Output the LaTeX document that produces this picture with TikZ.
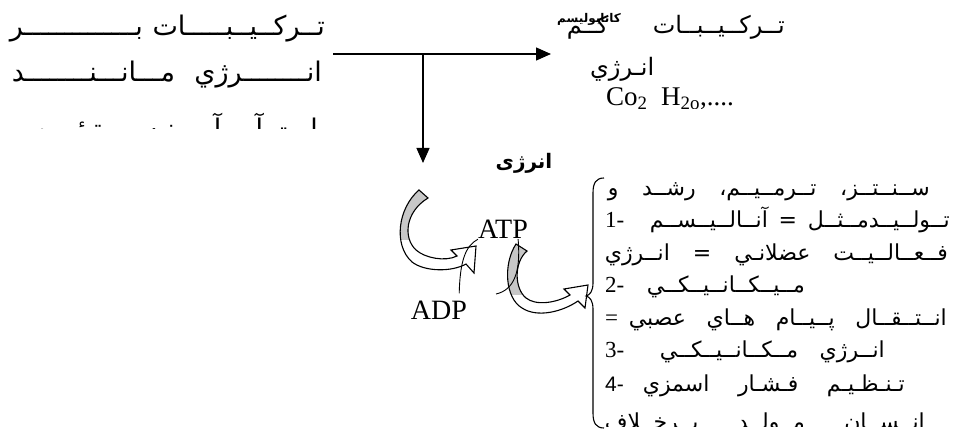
\documentclass[tikz,border=0pt]{standalone}
\usepackage{fontspec}
\setmainfont{Liberation Serif}
\newfontfamily\arfont[Script=Arabic]{DejaVu Sans}
\newfontfamily\latsans{Liberation Sans}
\TeXXeTstate=1
\usetikzlibrary{positioning, arrows.meta}

% outlines of the two curved block arrows
\newcommand{\ribbonone}{(419,190) .. controls (398,208) and (393,245) .. (412,262)
  .. controls (425,272) and (452,272) .. (466,264) -- (474,273) -- (476,246) -- (451,250)
  -- (457,256) .. controls (445,262) and (425,258) .. (416,250)
  .. controls (403,238) and (405,212) .. (428,198) -- cycle}
\newcommand{\ribbontwo}{(516,244) .. controls (503,264) and (505,298) .. (522,308)
  .. controls (537,318) and (562,312) .. (578,301) -- (585,308) -- (588,285) -- (564,289)
  -- (570,295) .. controls (556,303) and (536,306) .. (526,298)
  .. controls (514,288) and (514,262) .. (527,251) -- cycle}

\begin{document}
\begin{tikzpicture}[x=1pt, y=-1pt,
  bigar/.style={font=\arfont\fontsize{27}{27}\selectfont, anchor=base east, inner sep=0pt},
  midar/.style={font=\arfont\fontsize{24}{24}\selectfont, anchor=base east, inner sep=0pt},
  arline/.style={font=\arfont\fontsize{22}{22}\selectfont, anchor=base east, inner sep=0pt},
  numtag/.style={font=\fontsize{23}{23}\selectfont, anchor=base west, inner sep=0pt},
  chem/.style={font=\fontsize{28}{28}\selectfont, anchor=base, inner sep=0pt},
  flow/.style={-{Triangle[length=15pt, width=13pt]}, line width=1.3pt},
  link/.style={line width=0.9pt},
  ribbon/.style={draw, line width=1.1pt},
  shade/.style={fill=black!22},
  bracel/.style={line width=1.1pt}
]
  \useasboundingbox (0,0) rectangle (956,430);

  % source compounds, top left (last line cut off)
  \begin{scope}
    \clip (0,0) rectangle (340,129);
    \node[bigar] (src1) at (325,36) {\hbox to 315pt{\beginR تــركــيــبـــــات\hfill بــــــــــــــر\endR}};
    \node[bigar] (src2) at (322,82) {\hbox to 310pt{\beginR انــــــــرژي\hfill مـــانـــنــــــــد\endR}};
    \node[bigar] (src3) at (325,139) {\hbox to 300pt{\beginR حـرارت\hfill ،\hfill آب\hfill ،\hfill آمـيـنـه\hfill پـروتـئـيـن،\endR}};
  \end{scope}

  % products, top right
  \begin{scope}
    \clip (555,0) rectangle (800,109);
    \node[midar] (dst1) at (785,34) {\hbox to 218pt{\beginR تــركــيــبــات\hfill كــم\endR}};
    \node[midar, anchor=base west] (dst2) at (590,76) {\beginR انـرژي\endR};
    \node[chem, anchor=base west, font=\fontsize{27}{27}\selectfont] (dst3) at (606,106) {Co\textsubscript{2}\ \ H\textsubscript{2o},....};
  \end{scope}
  \node[font=\arfont\bfseries\fontsize{12}{12}\selectfont, inner sep=0pt] (catab) at (589,19) {\beginR كاتابوليسم\endR};

  % main arrows
  \coordinate (hstart) at (333,54);
  \coordinate (fork) at (423,54);
  \coordinate (hend) at (551,54);
  \coordinate (vend) at (423,163);
  \draw[flow] (hstart) -- (hend);
  \draw[flow] (fork) -- (vend);

  \node[font=\arfont\bfseries\fontsize{20}{20}\selectfont, inner sep=0pt] (energy) at (524,163) {\beginR انرژی\endR};

  % ATP cycle
  \node[chem] (ATP) at (503,239) {ATP};
  \node[chem] (ADP) at (439,320) {ADP};

  \begin{scope}
    \clip (385,185) rectangle (432,240);
    \fill[shade] \ribbonone;
  \end{scope}
  \draw[ribbon] \ribbonone;
  \begin{scope}
    \clip (500,240) rectangle (530,295);
    \fill[shade] \ribbontwo;
  \end{scope}
  \draw[ribbon] \ribbontwo;

  \coordinate (release) at (496,294);
  \draw[link] ([xshift=-8pt, yshift=8pt]ADP.north east) .. controls (460,262) and (465,246) .. (ATP.south west);
  \draw[link] ([xshift=-10pt]ATP.south east) .. controls (521,272) and (514,290) .. (release);

  % brace and uses of energy
  \draw[bracel] (604,178) .. controls (596,178) and (593,183) .. (593,193) -- (593,283)
    .. controls (593,291) and (590,295) .. (586,296) .. controls (590,297) and (593,301) .. (593,309)
    -- (593,413) .. controls (593,423) and (596,428) .. (604,428);

  \node[arline] (l1) at (930,196) {\hbox to 322pt{\beginR ســنــتــز،\hfill تــرمــيــم،\hfill رشــد\hfill و\endR}};
  \node[numtag] (n1) at (605,228) {1-};
  \node[arline] (l2) at (950,228) {\hbox to 300pt{\beginR تــولــيــدمــثــل\hfill =\hfill آنــالــيــســم\endR}};
  \node[arline] (l3) at (948,261) {\hbox to 343pt{\beginR فــعــالــيــت\hfill عضلانـي\hfill =\hfill انــرژي\endR}};
  \node[numtag] (n2) at (605,293) {2-};
  \node[arline] (l4) at (805,293) {\beginR مــيــكــانــيــكــي\endR};
  \node[numtag] (eq) at (605,326) {=};
  \node[arline] (l5) at (947,326) {\hbox to 318pt{\beginR انــتــقــال\hfill پــيــام\hfill هــاي\hfill عصبي\endR}};
  \node[numtag] (n3) at (605,358) {3-};
  \node[arline] (l6) at (885,358) {\hbox to 225pt{\beginR انــرژي\hfill مــكــانــيــكــي\endR}};
  \node[numtag, font=\latsans\fontsize{21}{21}\selectfont] (n4) at (605,391) {4-};
  \node[arline] (l7) at (905,391) {\hbox to 262pt{\beginR تـنـظـيـم\hfill فـشـار\hfill اسمزي\endR}};
  \begin{scope}
    \clip (598,380) rectangle (956,426);
    \node[arline] (l8) at (925,429) {\hbox to 320pt{\beginR انــســان\hfill مــولــد\hfill بــرخــلاف\endR}};
  \end{scope}
\end{tikzpicture}
\end{document}
